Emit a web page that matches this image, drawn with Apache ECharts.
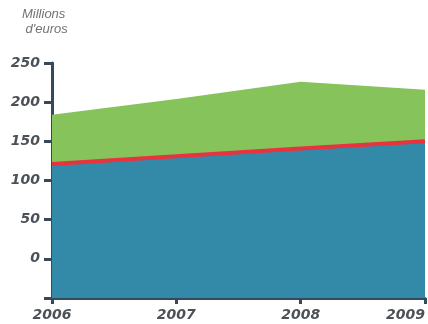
<!DOCTYPE html>
<html>
<head>
<meta charset="utf-8">
<script src="https://cdn.jsdelivr.net/npm/echarts@6/dist/echarts.min.js"></script>
<style>
  html, body { margin: 0; padding: 0; background: #ffffff; }
  #chart { width: 428px; height: 324px; }
</style>
</head>
<body>
<div id="chart"></div>
<script>
// Years on the horizontal axis
const years = ['2006', '2007', '2008', '2009'];
// Total amount (top of the green band), millions of euros
const totalValues = [184, 204, 226, 216];
// Lower band (blue area, outlined in red), millions of euros
const baseValues = [121, 131, 141, 150];
// Vertical scale
const yMin = -50;
const yMax = 250;
const yStep = 50;

const axisColor = '#35495a';
const labelColor = '#4c5157';
const labelFont = 'DejaVu Sans';

const chart = echarts.init(document.getElementById('chart'), null, { renderer: 'canvas' });

chart.setOption({
  animation: false,
  backgroundColor: '#ffffff',
  grid: {
    left: 52, right: 3, top: 63, bottom: 26,
    containLabel: false,
    outerBoundsMode: 'none'
  },
  graphic: [
    {
      type: 'text',
      left: 22,
      top: 7,
      style: {
        text: "Millions\n d'euros",
        fill: '#727272',
        font: 'italic 13px "Liberation Sans", Arial, sans-serif',
        lineHeight: 15
      }
    }
  ],
  xAxis: {
    type: 'category',
    data: years,
    boundaryGap: false,
    axisLine: { show: true, onZero: false, lineStyle: { color: axisColor, width: 3 } },
    axisTick: { show: true, length: 6, alignWithLabel: true, lineStyle: { color: axisColor, width: 3 } },
    axisLabel: {
      color: labelColor,
      fontFamily: labelFont,
      fontSize: 14,
      fontWeight: 'bold',
      fontStyle: 'italic',
      margin: 10,
      showMinLabel: true,
      showMaxLabel: true,
      hideOverlap: false,
      alignMaxLabel: 'right'
    },
    splitLine: { show: false }
  },
  yAxis: {
    type: 'value',
    min: yMin,
    max: yMax,
    interval: yStep,
    axisLine: { show: true, lineStyle: { color: axisColor, width: 3 } },
    axisTick: { show: true, length: 8, lineStyle: { color: axisColor, width: 3 } },
    axisLabel: {
      color: labelColor,
      fontFamily: labelFont,
      fontSize: 14,
      fontWeight: 'bold',
      fontStyle: 'italic',
      margin: 12,
      formatter: function (v) { return v <= yMin ? '' : String(v); }
    },
    splitLine: { show: false }
  },
  series: [
    {
      name: 'total',
      type: 'line',
      data: totalValues,
      symbol: 'none',
      lineStyle: { width: 0 },
      areaStyle: { color: '#86c35a', opacity: 1, origin: 'start' },
      z: 1
    },
    {
      name: 'base',
      type: 'line',
      data: baseValues,
      symbol: 'none',
      lineStyle: { color: '#e8323f', width: 4 },
      areaStyle: { color: '#3389a8', opacity: 1, origin: 'start' },
      z: 2
    }
  ]
});
</script>
</body>
</html>
